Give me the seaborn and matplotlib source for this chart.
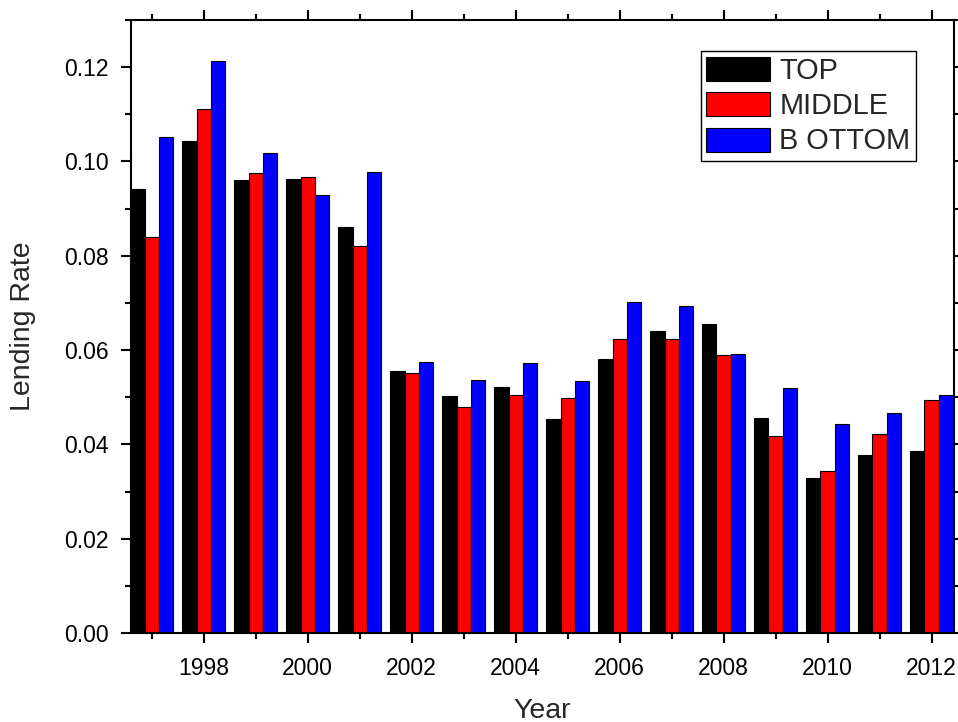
import matplotlib
matplotlib.use("Agg")
import matplotlib.pyplot as plt
from matplotlib.ticker import MultipleLocator, FixedLocator, FormatStrFormatter
import pandas as pd
import seaborn as sns

# Lending rate by year for the three groups
years = list(range(1997, 2013))
top = [0.0942, 0.1044, 0.0961, 0.0962, 0.0862, 0.0555, 0.0502, 0.0521,
       0.0453, 0.0582, 0.0641, 0.0656, 0.0456, 0.0328, 0.0378, 0.0385]
middle = [0.0839, 0.1112, 0.0975, 0.0966, 0.0821, 0.0552, 0.0480, 0.0505,
          0.0498, 0.0624, 0.0624, 0.0590, 0.0417, 0.0343, 0.0421, 0.0495]
bottom = [0.1051, 0.1214, 0.1019, 0.0928, 0.0978, 0.0575, 0.0536, 0.0573,
          0.0534, 0.0702, 0.0693, 0.0592, 0.0520, 0.0444, 0.0467, 0.0505]
group_names = ["TOP", "MIDDLE", "B OTTOM"]
group_colors = ["#000000", "#ff0000", "#0000ff"]
major_years = list(range(1998, 2013, 2))

df = pd.DataFrame({
    "Year": years * 3,
    "Rate": top + middle + bottom,
    "Group": [group_names[0]] * len(years) + [group_names[1]] * len(years)
             + [group_names[2]] * len(years),
})

sns.set_style("ticks")
plt.rcParams["font.family"] = ["Liberation Sans", "DejaVu Sans"]

fig = plt.figure(figsize=(9.58, 7.22), dpi=100)
ax = fig.add_axes([131 / 958, 1 - 633 / 722, 823 / 958, 613 / 722])

sns.barplot(data=df, x="Year", y="Rate", hue="Group", hue_order=group_names,
            palette=group_colors, native_scale=True, width=0.83,
            edgecolor="black", linewidth=0.8, saturation=1, ax=ax,
            errorbar=None, legend=True)

ax.set_xlim(1996.6, 2012.43)
ax.set_ylim(0, 0.13)

ax.xaxis.set_major_locator(FixedLocator(major_years))
ax.xaxis.set_minor_locator(MultipleLocator(1))
ax.set_xticks(major_years)
ax.set_xticklabels([str(y) for y in major_years])
ax.yaxis.set_major_locator(MultipleLocator(0.02))
ax.yaxis.set_minor_locator(MultipleLocator(0.01))
ax.yaxis.set_major_formatter(FormatStrFormatter("%.2f"))

for side in ["left", "right", "top", "bottom"]:
    ax.spines[side].set_visible(True)
    ax.spines[side].set_linewidth(1.5)
    ax.spines[side].set_color("black")

ax.tick_params(which="both", direction="out", top=True, right=True,
               labeltop=False, labelright=False, color="black", width=1.5)
ax.tick_params(which="major", length=7, labelsize=16.5, colors="black")
ax.tick_params(axis="x", which="major", pad=10)
ax.tick_params(axis="y", which="major", pad=9)
ax.tick_params(which="minor", length=4)

ax.set_xlabel("Year", fontsize=20.5, labelpad=13)
ax.set_ylabel("Lending Rate", fontsize=20.5, labelpad=20)

handles, labels = ax.get_legend_handles_labels()
leg = ax.legend(handles, labels, loc="upper right",
                bbox_to_anchor=(0.954, 0.949), borderaxespad=0,
                fontsize=20.8, frameon=True, fancybox=False, framealpha=1,
                edgecolor="black", handlelength=2.2, handleheight=0.9,
                handletextpad=0.32, labelspacing=0.25, borderpad=0.2,
                title=None)
leg.get_frame().set_linewidth(1.0)

fig.savefig("out.png", dpi=100)
